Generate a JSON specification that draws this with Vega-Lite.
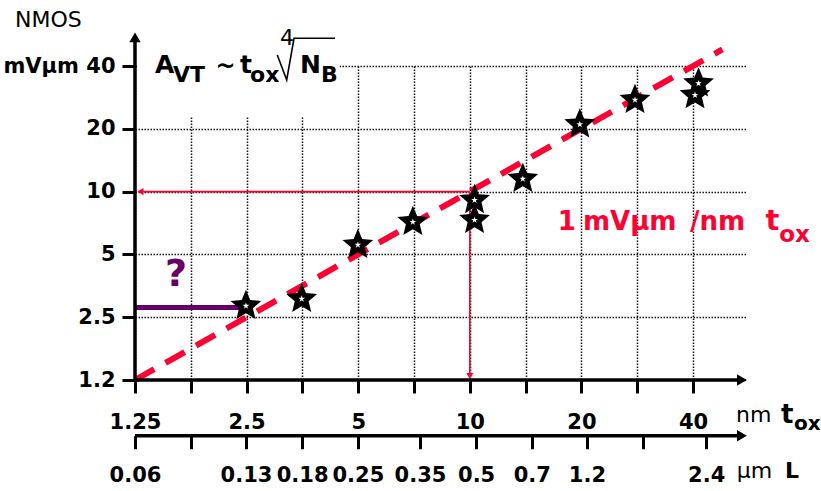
{
  "$schema": "https://vega.github.io/schema/vega-lite/v6.json",
  "width": 612,
  "height": 314,
  "autosize": {"type": "none"},
  "padding": {"left": 135, "top": 66, "right": 74, "bottom": 111},
  "background": "white",
  "config": {"view": {"stroke": null}, "font": "DejaVu Sans"},
  "datasets": {
    "stars": [
      {"x": 2.49, "y": 2.83}, {"x": 3.52, "y": 3.06}, {"x": 4.99, "y": 5.55},
      {"x": 7.02, "y": 7.15}, {"x": 10.3, "y": 9.11}, {"x": 10.3, "y": 7.31},
      {"x": 13.9, "y": 11.5}, {"x": 19.8, "y": 21.0}, {"x": 27.9, "y": 27.5},
      {"x": 41.4, "y": 33.0}, {"x": 40.5, "y": 29.0}
    ],
    "fit": [{"x": 1.25, "y": 1.25}, {"x": 48, "y": 48}],
    "box": [{"x": 1.27, "x2": 4.45, "y": 23, "y2": 46}],
    "redH": [{"x": 1.293, "x2": 10, "y": 10}],
    "redV": [{"x": 10, "y": 10, "y2": 1.306}],
    "redHeadL": [{"x": 1.293, "y": 10}],
    "redHeadD": [{"x": 10, "y": 1.306}],
    "purple": [{"x": 1.25, "x2": 2.43, "y": 2.78}],
    "axisH": [{"x": 1.25, "x2": 54.2, "y": 1.25}],
    "axisL": [{"x": 1.25, "x2": 54.2, "y": 0.676}],
    "axisV": [{"x": 1.25, "y": 1.25, "y2": 54.9}],
    "headR": [{"x": 54.2, "y": 1.25}, {"x": 54.2, "y": 0.676}],
    "headU": [{"x": 1.25, "y": 54.9}],
    "radical": [
      {"x": 3.025, "y": 45.2, "o": 1}, {"x": 3.207, "y": 34.3, "o": 2},
      {"x": 3.356, "y": 54.3, "o": 3}, {"x": 4.329, "y": 54.3, "o": 4}
    ],
    "labels": [
      {"g": "big", "t": "A", "x": 1.415, "y": 36.9},
      {"g": "big", "t": "t", "x": 2.4, "y": 36.9},
      {"g": "big", "t": "N", "x": 3.484, "y": 36.9},
      {"g": "sub", "t": "VT", "x": 1.583, "y": 33.6},
      {"g": "sub", "t": "ox", "x": 2.554, "y": 33.5},
      {"g": "sub", "t": "B", "x": 3.969, "y": 33.5},
      {"g": "sub2", "t": "ox", "x": 74.9, "y": 0.72},
      {"g": "sub", "t": "L", "x": 70.8, "y": 0.424},
      {"g": "plain", "t": "4", "x": 3.076, "y": 50.4},
      {"g": "plain", "t": "NMOS", "x": 0.593, "y": 61.7},
      {"g": "plain", "t": "nm", "x": 52.25, "y": 0.786},
      {"g": "plain", "t": "μm", "x": 52.5, "y": 0.424},
      {"g": "tbig", "t": "t", "x": 69.1, "y": 0.778},
      {"g": "tilde", "t": "~", "x": 2.193, "y": 39.6},
      {"g": "red", "t": "1", "x": 17.27, "y": 6.546},
      {"g": "red", "t": "mVμm", "x": 20.2, "y": 6.546},
      {"g": "red", "t": "/nm", "x": 39.26, "y": 6.546},
      {"g": "redt", "t": "t", "x": 62.8, "y": 6.546},
      {"g": "redsub", "t": "ox", "x": 68.3, "y": 5.75},
      {"g": "q", "t": "?", "x": 1.613, "y": 3.528}
    ]
  },
  "encoding": {
    "x": {"field": "x", "type": "quantitative", "scale": {"type": "log", "base": 2, "domain": [1.25, 55.94], "nice": false}, "axis": null},
    "y": {
      "field": "y", "type": "quantitative",
      "scale": {"type": "log", "base": 2, "domain": [1.25, 40], "nice": false},
      "axis": {
        "orient": "left", "title": null, "domain": false,
        "values": [1.25, 2.5, 5, 10, 20, 40],
        "labelExpr": "datum.value == 40 ? 'mVμm 40' : datum.value < 1.3 ? '1.2' : format(datum.value, '~g')",
        "tickSize": 13, "tickWidth": 3, "tickColor": "black",
        "grid": true, "gridDash": [1.5, 1.5], "gridColor": "#111", "gridWidth": 1.5,
        "labelFont": "DejaVu Sans", "labelFontWeight": "bold", "labelFontSize": 21, "labelColor": "black",
        "labelPadding": 7, "labelOverlap": false, "labelFlush": false, "labelBound": false
      }
    }
  },
  "layer": [
    {
      "data": {"name": "box"},
      "mark": {"type": "rect", "fill": "white", "stroke": null},
      "encoding": {"x2": {"field": "x2"}, "y2": {"field": "y2"}}
    },
    {
      "data": {"name": "redH"},
      "mark": {"type": "rule", "color": "#ff0033", "strokeWidth": 1.6},
      "encoding": {"x2": {"field": "x2"}}
    },
    {
      "data": {"name": "redV"},
      "mark": {"type": "rule", "color": "#ff0033", "strokeWidth": 1.6},
      "encoding": {"y2": {"field": "y2"}}
    },
    {
      "data": {"name": "redHeadL"},
      "mark": {"type": "point", "shape": "triangle-left", "filled": true, "color": "#ff0033", "size": 50, "opacity": 1}
    },
    {
      "data": {"name": "redHeadD"},
      "mark": {"type": "point", "shape": "triangle-down", "filled": true, "color": "#ff0033", "size": 50, "opacity": 1}
    },
    {
      "data": {"name": "fit"},
      "mark": {"type": "line", "color": "#ff0033", "strokeWidth": 6, "strokeDash": [22, 13], "strokeCap": "butt"}
    },
    {
      "data": {"name": "purple"},
      "mark": {"type": "rule", "color": "#660066", "strokeWidth": 5},
      "encoding": {"x2": {"field": "x2"}}
    },
    {
      "data": {"name": "stars"},
      "mark": {"type": "point", "shape": "M0,-1L0.2645,-0.364L0.951,-0.309L0.428,0.139L0.588,0.809L0,0.45L-0.588,0.809L-0.428,0.139L-0.951,-0.309L-0.2645,-0.364Z", "filled": true, "color": "black", "size": 1050, "opacity": 1},
      "encoding": {
        "x": {
          "field": "x", "type": "quantitative",
          "scale": {"type": "log", "base": 2, "domain": [1.25, 55.94], "nice": false},
          "axis": {
            "orient": "bottom", "title": null, "domain": false,
            "values": [1.25, 1.7678, 2.5, 3.5355, 5, 7.0711, 10, 14.142, 20, 28.284, 40],
            "labelExpr": "abs(log(datum.value/1.25)/log(2) - round(log(datum.value/1.25)/log(2))) < 0.01 ? format(datum.value, '~g') : ''",
            "tickSize": 13, "tickWidth": 3, "tickColor": "black",
            "grid": true, "gridDash": [1.5, 1.5], "gridColor": "#111", "gridWidth": 1.5,
            "labelFont": "DejaVu Sans", "labelFontWeight": "bold", "labelFontSize": 21, "labelColor": "black",
            "labelPadding": 18, "labelOverlap": false, "labelFlush": false, "labelBound": false
          }
        }
      }
    },
    {
      "data": {"name": "stars"},
      "mark": {"type": "point", "shape": "M0,-1L0.2245,-0.309L0.951,-0.309L0.363,0.118L0.588,0.809L0,0.382L-0.588,0.809L-0.363,0.118L-0.951,-0.309L-0.2245,-0.309Z", "filled": true, "color": "white", "size": 50, "opacity": 1}
    },
    {
      "data": {"name": "axisH"},
      "mark": {"type": "rule", "color": "black", "strokeWidth": 3.5},
      "encoding": {"x2": {"field": "x2"}}
    },
    {
      "data": {"name": "axisL"},
      "mark": {"type": "rule", "color": "black", "strokeWidth": 3.5},
      "encoding": {
        "x": {
          "field": "x", "type": "quantitative",
          "scale": {"type": "log", "base": 2, "domain": [1.25, 55.94], "nice": false},
          "axis": {
            "orient": "bottom", "offset": 55.7, "title": null, "domain": false, "grid": false,
            "values": [1.25, 1.768, 2.49, 3.53, 4.99, 7.34, 10.4, 14.7, 20.7, 29.3, 43.4],
            "labelExpr": "datum.value < 1.3 ? '0.06' : datum.value < 2 ? '' : datum.value < 3 ? '0.13' : datum.value < 4 ? '0.18' : datum.value < 6 ? '0.25' : datum.value < 8 ? '0.35' : datum.value < 12 ? '0.5' : datum.value < 17 ? '0.7' : datum.value < 25 ? '1.2' : datum.value < 35 ? '' : '2.4'",
            "tickSize": 13, "tickWidth": 3, "tickColor": "black",
            "labelFont": "DejaVu Sans", "labelFontWeight": "bold", "labelFontSize": 21, "labelColor": "black",
            "labelPadding": 16, "labelOverlap": false, "labelFlush": false, "labelBound": false
          }
        },
        "x2": {"field": "x2"}
      }
    },
    {
      "data": {"name": "axisV"},
      "mark": {"type": "rule", "color": "black", "strokeWidth": 3.5},
      "encoding": {"y2": {"field": "y2"}}
    },
    {
      "data": {"name": "headR"},
      "mark": {"type": "point", "shape": "triangle-right", "filled": true, "color": "black", "size": 130, "opacity": 1}
    },
    {
      "data": {"name": "headU"},
      "mark": {"type": "point", "shape": "triangle-up", "filled": true, "color": "black", "size": 130, "opacity": 1}
    },
    {
      "data": {"name": "radical"},
      "mark": {"type": "line", "color": "black", "strokeWidth": 1.6},
      "encoding": {"order": {"field": "o", "type": "quantitative"}}
    },
    {
      "data": {"name": "labels"},
      "transform": [{"filter": "datum.g == 'big'"}],
      "mark": {"type": "text", "align": "left", "baseline": "alphabetic", "font": "DejaVu Sans", "fontWeight": "bold", "fontSize": 25, "color": "black"},
      "encoding": {"text": {"field": "t"}}
    },
    {
      "data": {"name": "labels"},
      "transform": [{"filter": "datum.g == 'sub'"}],
      "mark": {"type": "text", "align": "left", "baseline": "alphabetic", "font": "DejaVu Sans", "fontWeight": "bold", "fontSize": 22, "color": "black"},
      "encoding": {"text": {"field": "t"}}
    },
    {
      "data": {"name": "labels"},
      "transform": [{"filter": "datum.g == 'sub2'"}],
      "mark": {"type": "text", "align": "left", "baseline": "alphabetic", "font": "DejaVu Sans", "fontWeight": "bold", "fontSize": 20, "color": "black"},
      "encoding": {"text": {"field": "t"}}
    },
    {
      "data": {"name": "labels"},
      "transform": [{"filter": "datum.g == 'plain'"}],
      "mark": {"type": "text", "align": "left", "baseline": "alphabetic", "font": "DejaVu Sans", "fontSize": 22, "color": "black"},
      "encoding": {"text": {"field": "t"}}
    },
    {
      "data": {"name": "labels"},
      "transform": [{"filter": "datum.g == 'tbig'"}],
      "mark": {"type": "text", "align": "left", "baseline": "alphabetic", "font": "DejaVu Sans", "fontWeight": "bold", "fontSize": 26, "color": "black"},
      "encoding": {"text": {"field": "t"}}
    },
    {
      "data": {"name": "labels"},
      "transform": [{"filter": "datum.g == 'tilde'"}],
      "mark": {"type": "text", "align": "center", "baseline": "middle", "font": "DejaVu Sans", "fontWeight": "bold", "fontSize": 24, "color": "black"},
      "encoding": {"text": {"field": "t"}}
    },
    {
      "data": {"name": "labels"},
      "transform": [{"filter": "datum.g == 'red'"}],
      "mark": {"type": "text", "align": "left", "baseline": "alphabetic", "font": "DejaVu Sans", "fontWeight": "bold", "fontSize": 26, "color": "#ff0033"},
      "encoding": {"text": {"field": "t"}}
    },
    {
      "data": {"name": "labels"},
      "transform": [{"filter": "datum.g == 'redt'"}],
      "mark": {"type": "text", "align": "left", "baseline": "alphabetic", "font": "DejaVu Sans", "fontWeight": "bold", "fontSize": 29, "color": "#ff0033"},
      "encoding": {"text": {"field": "t"}}
    },
    {
      "data": {"name": "labels"},
      "transform": [{"filter": "datum.g == 'redsub'"}],
      "mark": {"type": "text", "align": "left", "baseline": "alphabetic", "font": "DejaVu Sans", "fontWeight": "bold", "fontSize": 23, "color": "#ff0033"},
      "encoding": {"text": {"field": "t"}}
    },
    {
      "data": {"name": "labels"},
      "transform": [{"filter": "datum.g == 'q'"}],
      "mark": {"type": "text", "align": "center", "baseline": "alphabetic", "font": "DejaVu Sans", "fontWeight": "bold", "fontSize": 38, "color": "#660066"},
      "encoding": {"text": {"field": "t"}}
    }
  ],
  "resolve": {"axis": {"x": "independent"}}
}
